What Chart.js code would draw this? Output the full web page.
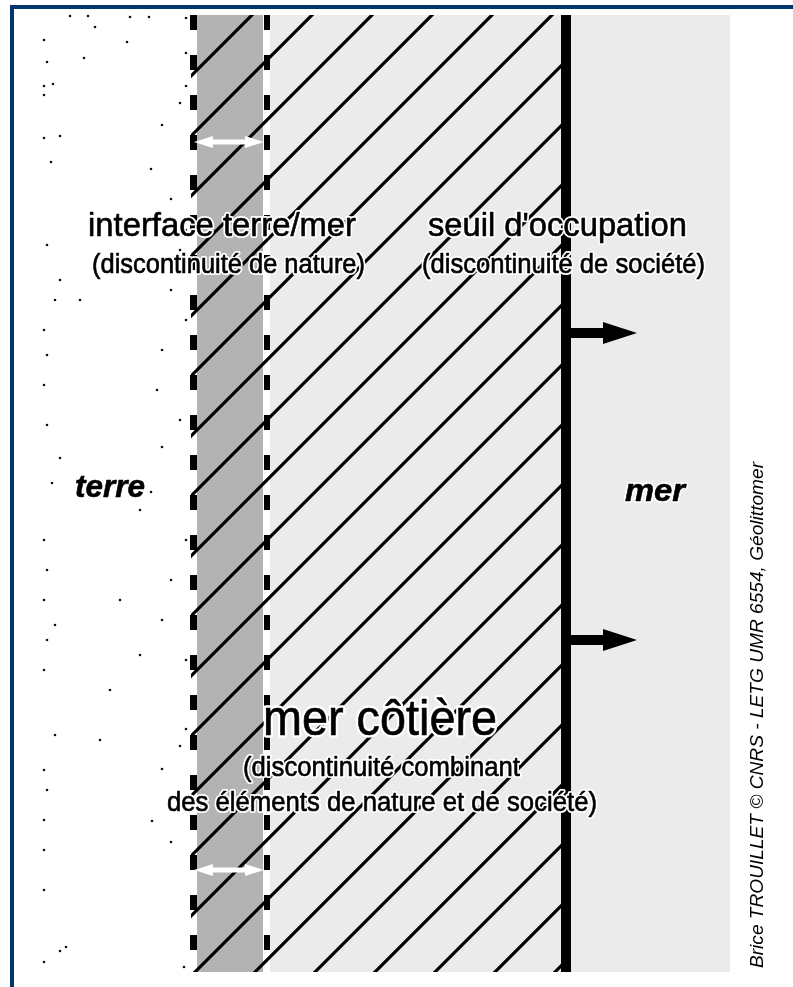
<!DOCTYPE html>
<html><head><meta charset="utf-8">
<script src="https://cdn.jsdelivr.net/npm/chart.js@4/dist/chart.umd.min.js"></script>
<style>html,body{margin:0;padding:0;background:#fff}#wrap{width:793px;height:987px;position:relative}</style>
</head><body><div id="wrap"><canvas id="c"></canvas></div>
<script>
// ---- content ----
const zoneLabels = ['terre', 'mer'];
const zoneLabelX = [110, 655];
const headings = ['interface terre/mer', "seuil d'occupation", 'mer côtière'];
const subHeadings = ['(discontinuité de nature)', '(discontinuité de société)', '(discontinuité combinant', 'des éléments de nature et de société)'];
const credit = 'Brice TROUILLET © CNRS - LETG UMR 6554, Géolittomer';
// boundaries along the land–sea axis (x units)
const boundaries = [197, 267, 566, 730];   // interface start, interface end, threshold, sea end
const pushArrowsY = [333, 640];            // arrows pushing the occupation threshold seaward
const widthArrowsY = [142, 870];           // white double arrows across the interface
const hatchOffsets = [207,267,327,387,447,507,567,627,687,747,807,867,927,987,1047,1107,1167,1227,1287,1347,1407,1467,1527];
// stipple of the land ("terre")
const dotX = [70,88,130,149,186,95,44,127,186,47,84,53,44,44,186,180,162,44,60,51,151,171,186,180,47,171,60,55,44,186,162,47,157,44,180,47,162,60,52,151,140,44,186,47,171,44,120,55,162,47,186,140,44,110,186,55,180,44,162,47,152,44,171,44,44,66,60,44,184,80,100];
const dotY = [16,16,17,17,18,27,40,42,53,62,58,84,86,95,86,103,125,138,136,162,169,199,230,250,245,290,280,300,330,320,350,355,390,385,420,425,447,458,483,492,510,540,540,570,580,600,600,625,620,640,660,655,670,690,729,735,746,770,769,790,821,820,842,850,890,947,951,962,967,300,740];

// ---- diagram plugin, drawn through the chart's scales ----
const diagram = {
  id: 'diagram',
  beforeDatasetsDraw(chart) {
    const {ctx, scales:{x, y}} = chart;
    const X = v => x.getPixelForValue(v), Y = v => y.getPixelForValue(v);
    const top = 15, bot = 972;
    ctx.save();
    ctx.fillStyle = '#ebebeb';
    ctx.fillRect(X(270), Y(top), X(boundaries[3]) - X(270), Y(bot) - Y(top));
    ctx.fillStyle = '#b3b3b3';
    ctx.fillRect(X(boundaries[0]), Y(top), X(263) - X(boundaries[0]), Y(bot) - Y(top));
    ctx.restore();
  },
  afterDatasetsDraw(chart) {
    const {ctx, scales:{x, y}} = chart;
    const X = v => x.getPixelForValue(v), Y = v => y.getPixelForValue(v);
    const top = 15, bot = 972;
    ctx.save();
    // hatching (45°) over interface + coastal sea
    ctx.save();
    ctx.beginPath();
    ctx.rect(X(191), Y(top), X(562) - X(191), Y(bot) - Y(top));
    ctx.clip();
    ctx.strokeStyle = '#000'; ctx.lineWidth = 3.2;
    hatchOffsets.forEach(c => {
      ctx.beginPath();
      ctx.moveTo(X(150), Y(c - 150));
      ctx.lineTo(X(620), Y(c - 620));
      ctx.stroke();
    });
    ctx.restore();
    // dashed boundaries of the interface
    ctx.strokeStyle = '#000';
    ctx.setLineDash([15, 25]);
    ctx.lineWidth = 7;
    ctx.beginPath(); ctx.moveTo(X(193.5), Y(top)); ctx.lineTo(X(193.5), Y(bot)); ctx.stroke();
    ctx.lineWidth = 6;
    ctx.beginPath(); ctx.moveTo(X(boundaries[1]), Y(top)); ctx.lineTo(X(boundaries[1]), Y(bot)); ctx.stroke();
    ctx.setLineDash([]);
    // occupation threshold
    ctx.lineWidth = 10;
    ctx.beginPath(); ctx.moveTo(X(boundaries[2]), Y(top)); ctx.lineTo(X(boundaries[2]), Y(bot)); ctx.stroke();
    // push arrows
    ctx.fillStyle = '#000';
    pushArrowsY.forEach(v => {
      ctx.fillRect(X(570), Y(v) - 5, X(605) - X(570), 10);
      ctx.beginPath();
      ctx.moveTo(X(603), Y(v) - 11); ctx.lineTo(X(637), Y(v)); ctx.lineTo(X(603), Y(v) + 11);
      ctx.closePath(); ctx.fill();
    });
    // white double arrows
    ctx.fillStyle = '#fff';
    widthArrowsY.forEach(v => {
      ctx.fillRect(X(205), Y(v) - 2.5, X(253) - X(205), 5);
      ctx.beginPath();
      ctx.moveTo(X(194), Y(v)); ctx.lineTo(X(213), Y(v) - 6); ctx.lineTo(X(213), Y(v) + 6); ctx.closePath(); ctx.fill();
      ctx.beginPath();
      ctx.moveTo(X(264), Y(v)); ctx.lineTo(X(245), Y(v) - 6); ctx.lineTo(X(245), Y(v) + 6); ctx.closePath(); ctx.fill();
    });
    // texts with white halo, fitted to measured extents
    const txt = (s, x1, x2, base, font, halo) => {
      ctx.font = font;
      const w = ctx.measureText(s).width;
      const sx = (X(x2) - X(x1)) / w;
      ctx.save();
      ctx.translate(X(x1), Y(base));
      ctx.scale(sx, 1);
      ctx.lineJoin = 'round';
      ctx.strokeStyle = '#fff'; ctx.lineWidth = halo / sx;
      ctx.textAlign = 'left'; ctx.textBaseline = 'alphabetic';
      ctx.strokeText(s, 0, 0);
      ctx.fillStyle = '#000';
      ctx.fillText(s, 0, 0);
      ctx.strokeStyle = '#000'; ctx.lineWidth = 0.6 / sx;
      ctx.strokeText(s, 0, 0);
      ctx.restore();
    };
    const F = '"Liberation Sans", Arial, sans-serif';
    txt(headings[0], 88, 356, 236, '34px ' + F, 4);
    txt(subHeadings[0], 92, 365, 273, '27px ' + F, 4);
    txt(headings[1], 428, 687, 236, '34px ' + F, 4);
    txt(subHeadings[1], 422, 705, 273, '27px ' + F, 4);
    txt(zoneLabels[0], zoneLabelX[0] - 35, zoneLabelX[0] + 35, 497, 'italic bold 32px ' + F, 4);
    txt(zoneLabels[1], zoneLabelX[1] - 30, zoneLabelX[1] + 30, 501, 'italic bold 32px ' + F, 4);
    txt(headings[2], 263, 497, 735, '50px ' + F, 5);
    txt(subHeadings[2], 243, 520, 776, '27px ' + F, 4);
    txt(subHeadings[3], 167, 597, 811, '27px ' + F, 4);
    // vertical credit
    ctx.save();
    ctx.translate(X(763), Y(968));
    ctx.rotate(-Math.PI / 2);
    ctx.font = 'italic 19px ' + F;
    const cw = ctx.measureText(credit).width;
    ctx.scale((Y(968) - Y(462)) / cw, 1);
    ctx.fillStyle = '#000';
    ctx.textBaseline = 'alphabetic';
    ctx.fillText(credit, 0, 0);
    ctx.restore();
    // frame
    ctx.fillStyle = '#00386e';
    ctx.fillRect(X(10), Y(5), X(793) - X(10), 4);
    ctx.fillRect(X(10), Y(5), 4, Y(987) - Y(5));
    ctx.restore();
  }
};

new Chart(document.getElementById('c'), {
  type: 'scatter',
  data: {
    datasets: [{
      label: 'terre',
      data: dotX.map((v, i) => ({x: v, y: dotY[i]})),
      pointRadius: 1.3,
      pointHoverRadius: 1.3,
      pointBorderWidth: 0,
      pointBackgroundColor: '#111',
      clip: false
    }]
  },
  options: {
    responsive: true,
    maintainAspectRatio: false,
    animation: false,
    events: [],
    layout: {padding: 0, autoPadding: false},
    plugins: {legend: {display: false}, tooltip: {enabled: false}},
    scales: {
      x: {type: 'linear', min: 0, max: 793, display: false},
      y: {type: 'linear', min: 0, max: 987, reverse: true, display: false}
    }
  },
  plugins: [diagram]
});
</script>
</body></html>
